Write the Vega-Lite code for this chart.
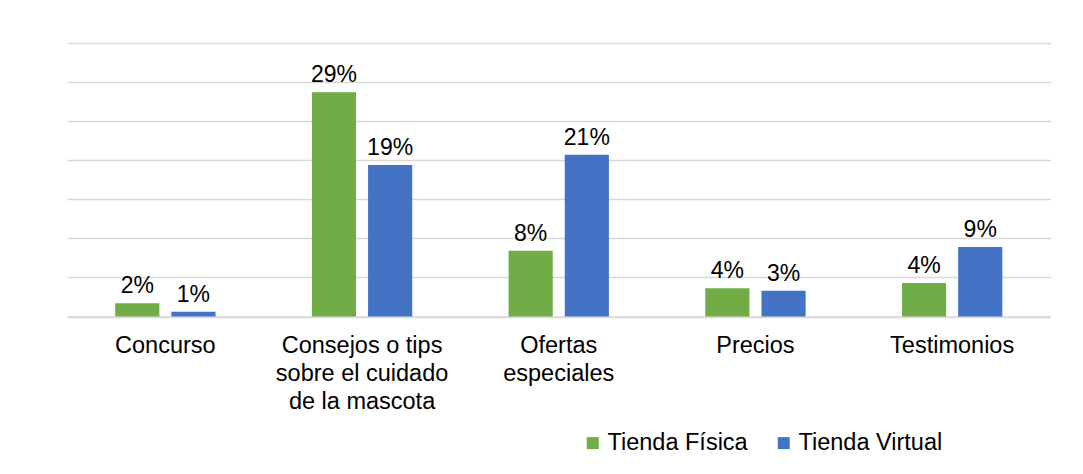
{
  "$schema": "https://vega.github.io/schema/vega-lite/v6.json",
  "autosize": "none",
  "width": 983.5,
  "height": 273.5,
  "padding": {"left": 67, "top": 43, "right": 32.5, "bottom": 157.5},
  "background": "white",
  "config": {
    "view": {"stroke": null},
    "font": "Liberation Sans",
    "axis": {"labelFont": "Liberation Sans"},
    "legend": {"labelFont": "Liberation Sans"}
  },
  "data": {
    "values": [
      {"categoria": "Concurso", "serie": "Tienda Física", "valor": 0.017},
      {"categoria": "Concurso", "serie": "Tienda Virtual", "valor": 0.006},
      {"categoria": "Consejos o tips sobre el cuidado de la mascota", "serie": "Tienda Física", "valor": 0.287},
      {"categoria": "Consejos o tips sobre el cuidado de la mascota", "serie": "Tienda Virtual", "valor": 0.194},
      {"categoria": "Ofertas especiales", "serie": "Tienda Física", "valor": 0.084},
      {"categoria": "Ofertas especiales", "serie": "Tienda Virtual", "valor": 0.207},
      {"categoria": "Precios", "serie": "Tienda Física", "valor": 0.036},
      {"categoria": "Precios", "serie": "Tienda Virtual", "valor": 0.033},
      {"categoria": "Testimonios", "serie": "Tienda Física", "valor": 0.043},
      {"categoria": "Testimonios", "serie": "Tienda Virtual", "valor": 0.089}
    ]
  },
  "encoding": {
    "x": {
      "field": "categoria",
      "type": "nominal",
      "sort": null,
      "scale": {"paddingInner": 0.49, "paddingOuter": 0.245},
      "axis": {
        "title": null,
        "labelAngle": 0,
        "ticks": false,
        "domain": true,
        "domainColor": "#d9d9d9",
        "domainWidth": 1.5,
        "labelPadding": 17,
        "labelFontSize": 23.5,
        "labelLineHeight": 28,
        "labelColor": "#000000",
        "labelLimit": 300,
        "labelExpr": "datum.label == 'Consejos o tips sobre el cuidado de la mascota' ? ['Consejos o tips', 'sobre el cuidado', 'de la mascota'] : datum.label == 'Ofertas especiales' ? ['Ofertas', 'especiales'] : datum.label"
      }
    },
    "xOffset": {
      "field": "serie",
      "type": "nominal",
      "sort": ["Tienda Física", "Tienda Virtual"],
      "scale": {"paddingInner": 0.214, "paddingOuter": 0}
    },
    "y": {
      "field": "valor",
      "type": "quantitative",
      "scale": {"domain": [0, 0.35], "nice": false},
      "axis": {
        "title": null,
        "labels": false,
        "ticks": false,
        "domain": false,
        "grid": true,
        "gridColor": "#d9d9d9",
        "gridWidth": 1.5,
        "values": [0, 0.05, 0.1, 0.15, 0.2, 0.25, 0.3, 0.35]
      }
    }
  },
  "layer": [
    {
      "mark": {"type": "bar"},
      "encoding": {
        "color": {
          "field": "serie",
          "type": "nominal",
          "scale": {"domain": ["Tienda Física", "Tienda Virtual"], "range": ["#70AD47", "#4472C4"]},
          "legend": {
            "title": null,
            "orient": "none",
            "legendX": 514,
            "legendY": 388,
            "direction": "horizontal",
            "symbolType": "square",
            "symbolSize": 144,
            "symbolStrokeWidth": 0,
            "labelFontSize": 23.5,
            "labelColor": "#000000",
            "labelOffset": 3,
            "columnPadding": 24,
            "labelLimit": 300
          }
        }
      }
    },
    {
      "mark": {"type": "text", "fontSize": 23, "baseline": "alphabetic", "dy": -10, "color": "#000000"},
      "encoding": {
        "text": {"field": "valor", "type": "quantitative", "format": ".0%"}
      }
    }
  ]
}
